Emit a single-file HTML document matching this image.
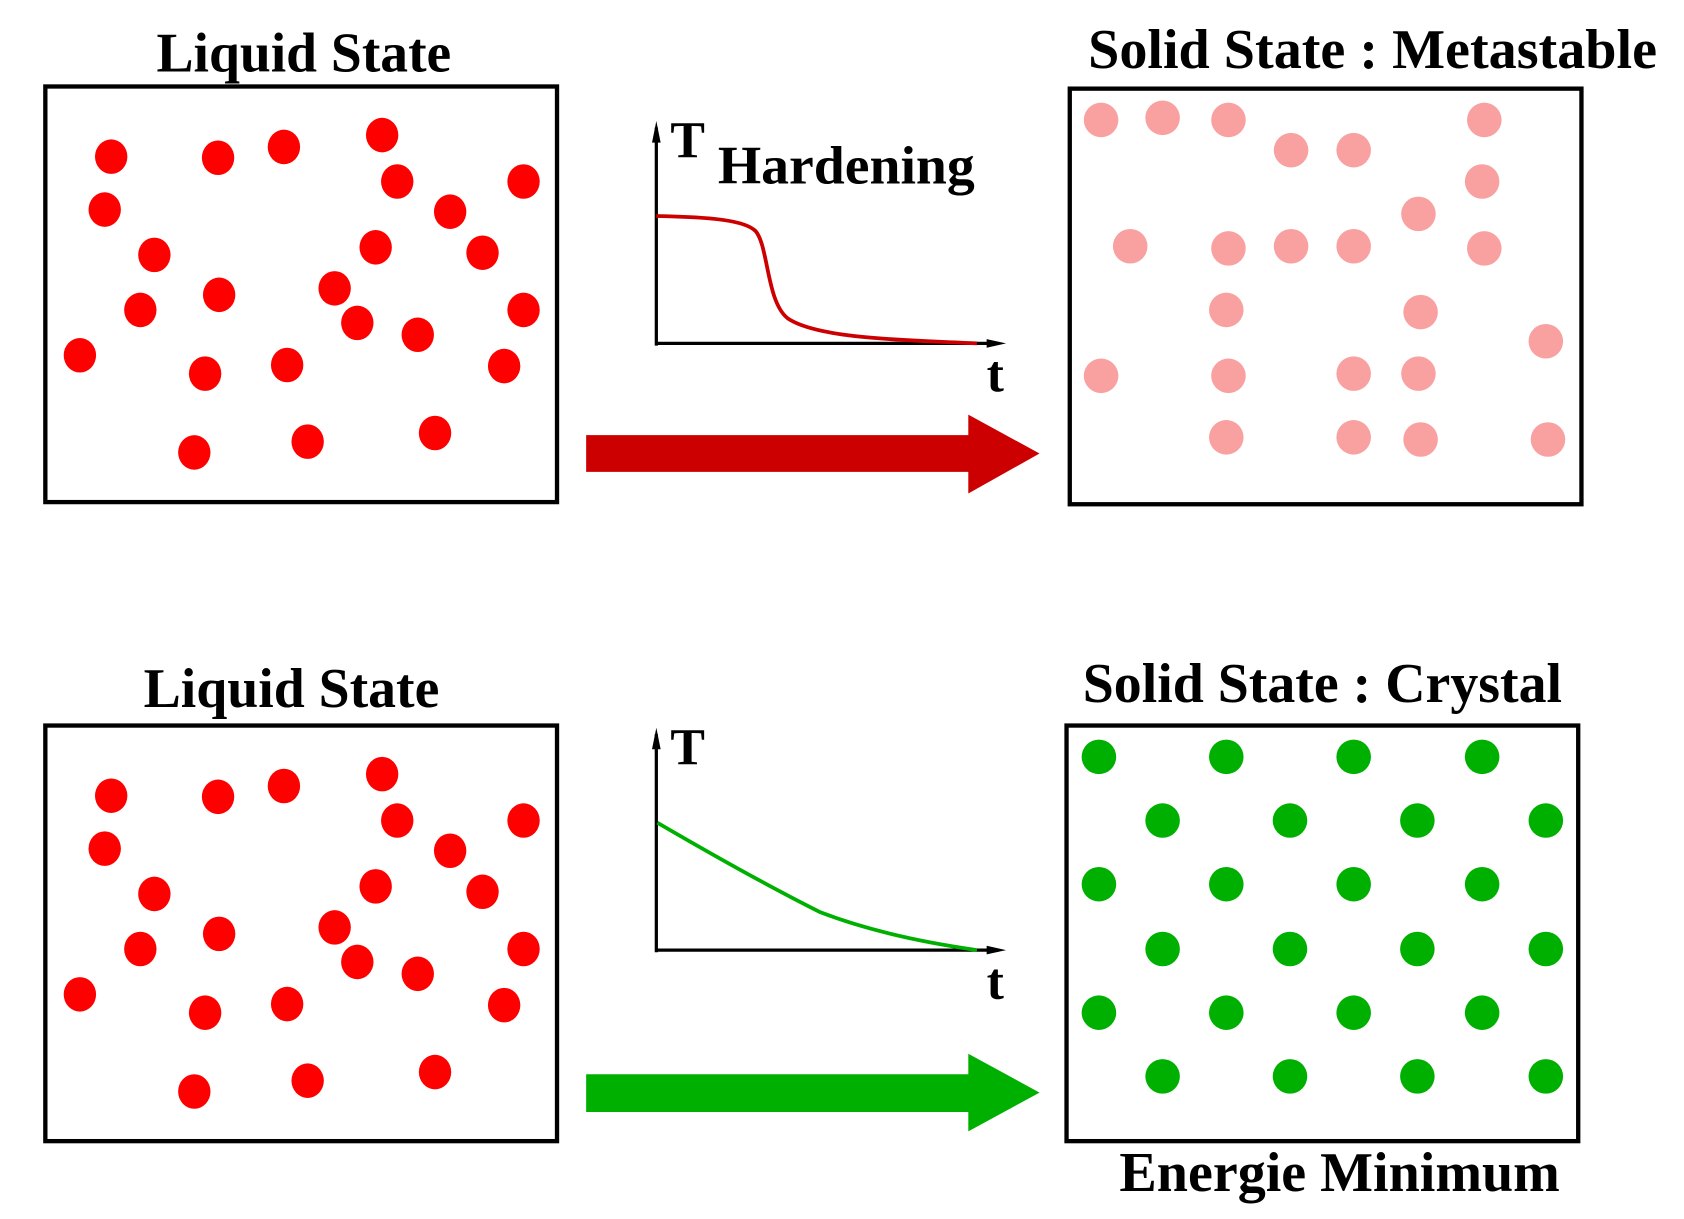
<!DOCTYPE html>
<html><head><meta charset="utf-8"><style>html,body{margin:0;padding:0;background:#fff}svg{display:block}</style></head>
<body>
<svg width="1684" height="1219" viewBox="0 0 1560 1129" xmlns="http://www.w3.org/2000/svg" font-family="Liberation Serif, serif" font-weight="bold">
<defs>
<g id="liq" fill="#ff0000">
<ellipse cx="103" cy="145" rx="15" ry="16"/><ellipse cx="202" cy="146" rx="15" ry="16"/><ellipse cx="263" cy="136" rx="15" ry="16"/><ellipse cx="354" cy="125" rx="15" ry="16"/><ellipse cx="368" cy="168" rx="15" ry="16"/><ellipse cx="485" cy="168" rx="15" ry="16"/><ellipse cx="97" cy="194" rx="15" ry="16"/><ellipse cx="417" cy="196" rx="15" ry="16"/><ellipse cx="143" cy="236" rx="15" ry="16"/><ellipse cx="348" cy="229" rx="15" ry="16"/><ellipse cx="447" cy="234" rx="15" ry="16"/><ellipse cx="203" cy="273" rx="15" ry="16"/><ellipse cx="310" cy="267" rx="15" ry="16"/><ellipse cx="130" cy="287" rx="15" ry="16"/><ellipse cx="485" cy="287" rx="15" ry="16"/><ellipse cx="331" cy="299" rx="15" ry="16"/><ellipse cx="387" cy="310" rx="15" ry="16"/><ellipse cx="74" cy="329" rx="15" ry="16"/><ellipse cx="190" cy="346" rx="15" ry="16"/><ellipse cx="266" cy="338" rx="15" ry="16"/><ellipse cx="467" cy="339" rx="15" ry="16"/><ellipse cx="180" cy="419" rx="15" ry="16"/><ellipse cx="285" cy="409" rx="15" ry="16"/><ellipse cx="403" cy="401" rx="15" ry="16"/>
</g>
</defs>
<g fill="none" stroke="#000" stroke-width="4">
<rect x="42" y="80" width="474" height="385"/>
<rect x="42" y="672" width="474" height="385"/>
<rect x="991" y="82" width="474" height="385"/>
<rect x="988" y="672" width="474" height="385"/>
</g>
<use href="#liq"/>
<use href="#liq" y="592"/>
<g fill="#f9a0a0">
<ellipse cx="1020" cy="111" rx="16" ry="16"/><ellipse cx="1077" cy="109" rx="16" ry="16"/><ellipse cx="1138" cy="111" rx="16" ry="16"/><ellipse cx="1196" cy="139" rx="16" ry="16"/><ellipse cx="1254" cy="139" rx="16" ry="16"/><ellipse cx="1375" cy="111" rx="16" ry="16"/><ellipse cx="1373" cy="168" rx="16" ry="16"/><ellipse cx="1314" cy="198" rx="16" ry="16"/><ellipse cx="1047" cy="228" rx="16" ry="16"/><ellipse cx="1138" cy="230" rx="16" ry="16"/><ellipse cx="1196" cy="228" rx="16" ry="16"/><ellipse cx="1254" cy="228" rx="16" ry="16"/><ellipse cx="1375" cy="230" rx="16" ry="16"/><ellipse cx="1136" cy="287" rx="16" ry="16"/><ellipse cx="1316" cy="289" rx="16" ry="16"/><ellipse cx="1432" cy="316" rx="16" ry="16"/><ellipse cx="1020" cy="348" rx="16" ry="16"/><ellipse cx="1138" cy="348" rx="16" ry="16"/><ellipse cx="1254" cy="346" rx="16" ry="16"/><ellipse cx="1314" cy="346" rx="16" ry="16"/><ellipse cx="1136" cy="405" rx="16" ry="16"/><ellipse cx="1254" cy="405" rx="16" ry="16"/><ellipse cx="1316" cy="407" rx="16" ry="16"/><ellipse cx="1434" cy="407" rx="16" ry="16"/>
</g>
<g fill="#00b000">
<circle cx="1018" cy="701" r="16"/><circle cx="1136" cy="701" r="16"/><circle cx="1254" cy="701" r="16"/><circle cx="1373" cy="701" r="16"/>
<circle cx="1077" cy="760" r="16"/><circle cx="1195" cy="760" r="16"/><circle cx="1313" cy="760" r="16"/><circle cx="1432" cy="760" r="16"/>
<circle cx="1018" cy="819" r="16"/><circle cx="1136" cy="819" r="16"/><circle cx="1254" cy="819" r="16"/><circle cx="1373" cy="819" r="16"/>
<circle cx="1077" cy="879" r="16"/><circle cx="1195" cy="879" r="16"/><circle cx="1313" cy="879" r="16"/><circle cx="1432" cy="879" r="16"/>
<circle cx="1018" cy="938" r="16"/><circle cx="1136" cy="938" r="16"/><circle cx="1254" cy="938" r="16"/><circle cx="1373" cy="938" r="16"/>
<circle cx="1077" cy="997" r="16"/><circle cx="1195" cy="997" r="16"/><circle cx="1313" cy="997" r="16"/><circle cx="1432" cy="997" r="16"/>
</g>
<polygon fill="#cc0000" points="543,403 897,403 897,384 963,420 897,457 897,437 543,437"/>
<polygon fill="#00b000" points="543,995 897,995 897,976 963,1012 897,1048 897,1030 543,1030"/>
<g stroke="#000" stroke-width="3" fill="none">
<path d="M608,320 V118 M608,318 H925"/>
<path d="M608,882 V680 M608,880 H925"/>
</g>
<g fill="#000">
<polygon points="608,112 604,132 612,132"/><polygon points="932,318 914,314 914,322"/>
<polygon points="608,674 604,694 612,694"/><polygon points="932,880 914,876 914,884"/>
</g>
<path d="M608,200 C660,201 690,204 700,214 C712,228 710,280 730,295 C760,315 850,315 905,318" fill="none" stroke="#cc0000" stroke-width="3.5"/>
<path d="M609,762 Q700,815 760,845 Q820,868 905,880" fill="none" stroke="#00b000" stroke-width="3.5"/>
<g fill="#000">
<text x="145" y="66" font-size="52" textLength="273" lengthAdjust="spacingAndGlyphs">Liquid State</text>
<text x="1008" y="63" font-size="52" textLength="527" lengthAdjust="spacingAndGlyphs">Solid State : Metastable</text>
<text x="133" y="655" font-size="52" textLength="274" lengthAdjust="spacingAndGlyphs">Liquid State</text>
<text x="1003" y="650" font-size="52" textLength="444" lengthAdjust="spacingAndGlyphs">Solid State : Crystal</text>
<text x="1037" y="1103" font-size="52" textLength="408" lengthAdjust="spacingAndGlyphs">Energie Minimum</text>
<text x="665" y="170" font-size="50" textLength="238" lengthAdjust="spacingAndGlyphs">Hardening</text>
<text x="621" y="146" font-size="48">T</text>
<text x="621" y="708" font-size="48">T</text>
<text x="914" y="362" font-size="48">t</text>
<text x="914" y="925" font-size="48">t</text>
</g>
</svg>
</body></html>
